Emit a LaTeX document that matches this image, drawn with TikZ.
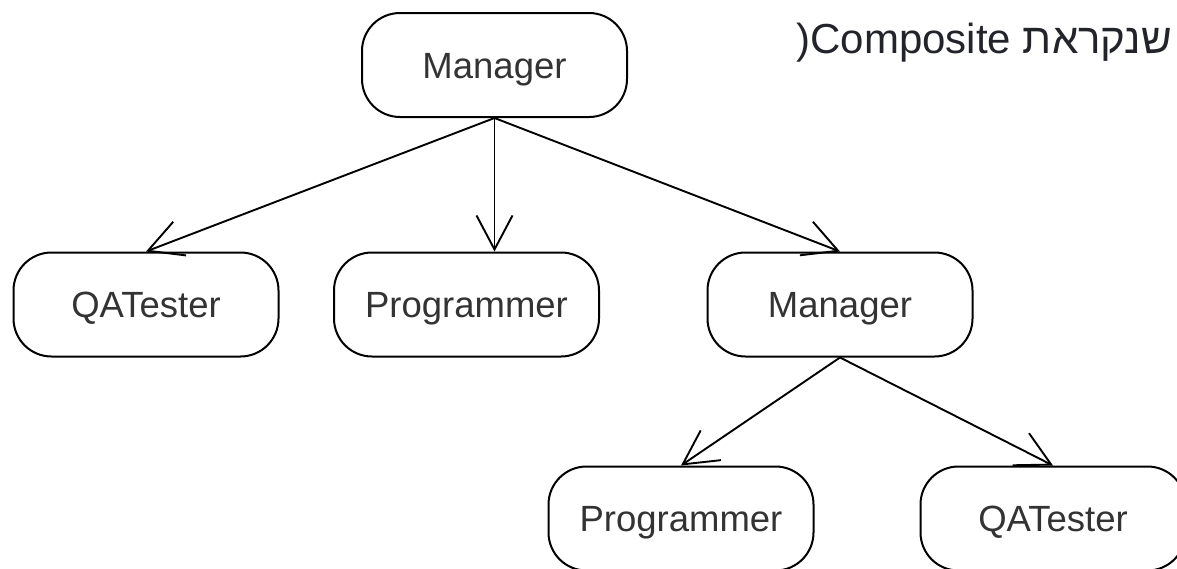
\documentclass[tikz,border=0pt]{standalone}
\usepackage{fontspec}
\setmainfont{Liberation Sans}
\newfontfamily\hebfont[Script=Hebrew]{Liberation Sans}
\TeXXeTstate=1
\usepackage{tikz}
\usetikzlibrary{arrows.meta, positioning}
\definecolor{ink}{RGB}{34,36,42}

\begin{document}
\begin{tikzpicture}[
  x=1pt, y=-1pt,
  role/.style={rectangle, rounded corners=38pt, draw, line width=2pt, minimum width=265pt, minimum height=104pt, font=\fontsize{36.5}{40}\selectfont, text=black!80, text height=26pt, text depth=0pt, align=center},
  arrow/.style={-{Straight Barb[length=34pt, width=36pt]}, line width=1.9pt}
]
\useasboundingbox (0, 0) rectangle (1177, 568);
\clip (0, 0) rectangle (1177, 568);

\node[role] (mgr) at (494.5, 65) {Manager};
\node[role] (qa) at (146, 304.5) {QATester};
\node[role] (prog) at (466.5, 304.5) {Programmer};
\node[role] (mgr2) at (840, 304.5) {Manager};
\node[role] (prog2) at (681, 518.5) {Programmer};
\node[role] (qa2) at (1053, 518.5) {QATester};

\node[anchor=base east, inner sep=0, text=ink, font=\fontsize{42}{46}\selectfont] (note) at (1172, 53) {\hebfont\beginR שנקראת \beginL Composite\endL(\endR}; % the caption

\draw[arrow] (mgr.south) -- (qa.north);
\draw[arrow] (mgr.south) -- (mgr.south |- prog.north);
\draw[arrow] (mgr.south) -- (mgr2.north);
\draw[arrow] (mgr2.south) -- (prog2.north);
\draw[arrow] (mgr2.south) -- (qa2.north);

\end{tikzpicture}
\end{document}
